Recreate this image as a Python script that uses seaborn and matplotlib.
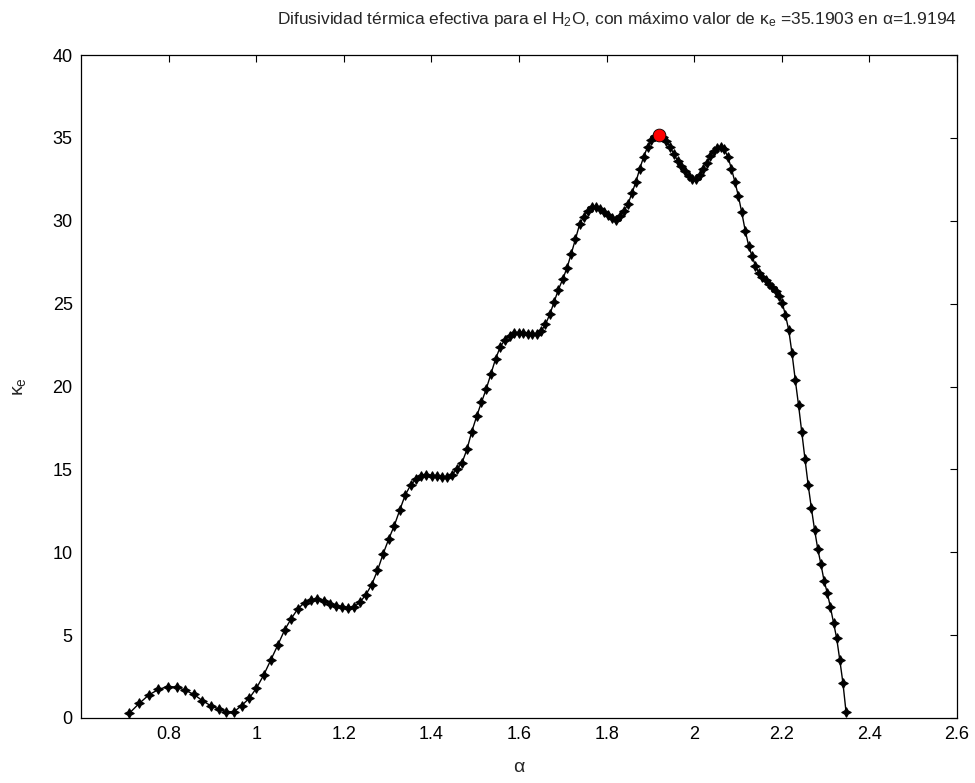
import matplotlib
matplotlib.use("Agg")
import matplotlib.pyplot as plt
import pandas as pd
import seaborn as sns

# Effective thermal diffusivity kappa_e as a function of alpha
alpha = [
    0.7100, 0.7329, 0.7553, 0.7769, 0.7979, 0.8183, 0.8384, 0.8579, 0.8770, 0.8957,
    0.9140, 0.9319, 0.9495, 0.9668, 0.9838, 1.0005, 1.0169, 1.0331, 1.0490, 1.0647,
    1.0801, 1.0954, 1.1104, 1.1252, 1.1398, 1.1542, 1.1685, 1.1826, 1.1965, 1.2103,
    1.2239, 1.2374, 1.2507, 1.2638, 1.2769, 1.2898, 1.3026, 1.3152, 1.3278, 1.3402,
    1.3525, 1.3647, 1.3768, 1.3887, 1.4006, 1.4124, 1.4241, 1.4357, 1.4471, 1.4586,
    1.4699, 1.4811, 1.4922, 1.5033, 1.5143, 1.5252, 1.5360, 1.5467, 1.5574, 1.5680,
    1.5785, 1.5890, 1.5994, 1.6097, 1.6200, 1.6301, 1.6403, 1.6504, 1.6604, 1.6703,
    1.6802, 1.6900, 1.6998, 1.7095, 1.7192, 1.7288, 1.7383, 1.7478, 1.7573, 1.7667,
    1.7760, 1.7853, 1.7946, 1.8038, 1.8130, 1.8221, 1.8311, 1.8402, 1.8492, 1.8581,
    1.8670, 1.8758, 1.8846, 1.8934, 1.9021, 1.9108, 1.9194, 1.9281, 1.9366, 1.9452,
    1.9537, 1.9621, 1.9706, 1.9790, 1.9873, 1.9956, 2.0039, 2.0122, 2.0204, 2.0285,
    2.0367, 2.0448, 2.0529, 2.0610, 2.0690, 2.0770, 2.0849, 2.0929, 2.1008, 2.1086,
    2.1165, 2.1243, 2.1321, 2.1398, 2.1476, 2.1552, 2.1629, 2.1706, 2.1782, 2.1858,
    2.1933, 2.2009, 2.2084, 2.2159, 2.2233, 2.2308, 2.2382, 2.2456, 2.2529, 2.2603,
    2.2676, 2.2749, 2.2822, 2.2894, 2.2966, 2.3038, 2.3110, 2.3182, 2.3253, 2.3324,
    2.3395, 2.3466,
]

kappa = [
    0.28, 0.88, 1.40, 1.72, 1.90, 1.86, 1.67, 1.42, 1.05, 0.75,
    0.55, 0.37, 0.38, 0.75, 1.18, 1.80, 2.58, 3.49, 4.38, 5.30,
    6.00, 6.60, 6.96, 7.11, 7.16, 7.08, 6.88, 6.73, 6.68, 6.66,
    6.71, 7.00, 7.45, 8.05, 8.90, 9.90, 10.80, 11.60, 12.55, 13.45,
    14.05, 14.40, 14.58, 14.66, 14.63, 14.58, 14.53, 14.55, 14.68, 15.02,
    15.40, 16.20, 17.28, 18.20, 19.05, 19.85, 20.78, 21.68, 22.40, 22.82,
    23.05, 23.22, 23.25, 23.22, 23.17, 23.14, 23.16, 23.33, 23.75, 24.35,
    25.10, 25.85, 26.47, 27.15, 28.00, 28.88, 29.78, 30.25, 30.60, 30.85,
    30.80, 30.69, 30.52, 30.35, 30.15, 30.07, 30.28, 30.60, 31.03, 31.70,
    32.35, 33.15, 33.85, 34.45, 34.90, 35.10, 35.1903, 35.05, 34.82, 34.45,
    34.03, 33.63, 33.30, 33.00, 32.70, 32.50, 32.52, 32.75, 33.10, 33.50,
    33.88, 34.18, 34.40, 34.47, 34.30, 33.85, 33.15, 32.35, 31.50, 30.50,
    29.40, 28.50, 27.85, 27.30, 26.85, 26.60, 26.40, 26.20, 26.00, 25.78,
    25.47, 25.05, 24.30, 23.40, 22.00, 20.39, 18.88, 17.24, 15.63, 14.04,
    12.65, 11.34, 10.19, 9.27, 8.27, 7.56, 6.68, 5.75, 4.81, 3.50,
    2.13, 0.38,
]

# Maximum of kappa_e
alpha_max = 1.9194
kappa_max = 35.1903

x_ticks = [0.8, 1.0, 1.2, 1.4, 1.6, 1.8, 2.0, 2.2, 2.4, 2.6]
x_tick_labels = ["0.8", "1", "1.2", "1.4", "1.6", "1.8", "2", "2.2", "2.4", "2.6"]
y_ticks = [0, 5, 10, 15, 20, 25, 30, 35, 40]
y_tick_labels = ["0", "5", "10", "15", "20", "25", "30", "35", "40"]

sns.set_theme(style="white")
plt.rcParams["font.family"] = ["Liberation Sans", "DejaVu Sans"]
plt.rcParams["mathtext.fontset"] = "custom"
plt.rcParams["mathtext.rm"] = "Liberation Sans"
plt.rcParams["mathtext.it"] = "Liberation Sans"
plt.rcParams["mathtext.bf"] = "Liberation Sans:bold"

fig = plt.figure(figsize=(9.75, 7.83), dpi=100, facecolor="white")
ax = fig.add_axes([81 / 975, 1 - 718 / 783, 876 / 975, 663 / 783])
ax.set_facecolor("white")

df = pd.DataFrame({"alpha": alpha, "kappa": kappa})
sns.lineplot(data=df, x="alpha", y="kappa", sort=False, estimator=None,
             color="black", linewidth=1.0, marker=(4, 1, 0), markersize=7,
             markeredgecolor="black", markerfacecolor="black", ax=ax)
sns.scatterplot(x=[alpha_max], y=[kappa_max], color="red", edgecolor="black",
                linewidth=0.6, s=85, zorder=5, ax=ax)

ax.set_xlim(0.6, 2.6)
ax.set_ylim(0, 40)
ax.set_xticks(x_ticks)
ax.set_xticklabels(x_tick_labels)
ax.set_yticks(y_ticks)
ax.set_yticklabels(y_tick_labels)
ax.tick_params(direction="in", length=5, width=0.8, top=True, right=True,
               labelsize=13, pad=6, colors="black")
for side in ["left", "right", "top", "bottom"]:
    ax.spines[side].set_visible(True)
    ax.spines[side].set_color("black")
    ax.spines[side].set_linewidth(0.9)

ax.set_xlabel(r"$\alpha$", fontsize=14, labelpad=11)
ax.set_ylabel(r"$\kappa_e$", fontsize=14, labelpad=18)
ax.set_title("Difusividad térmica efectiva para el H$_2$O, con máximo valor de "
             r"$\kappa_e$ =35.1903 en $\alpha$=1.9194",
             fontsize=12.5, pad=22, loc="right")

fig.savefig("out.png", dpi=100, facecolor="white")
